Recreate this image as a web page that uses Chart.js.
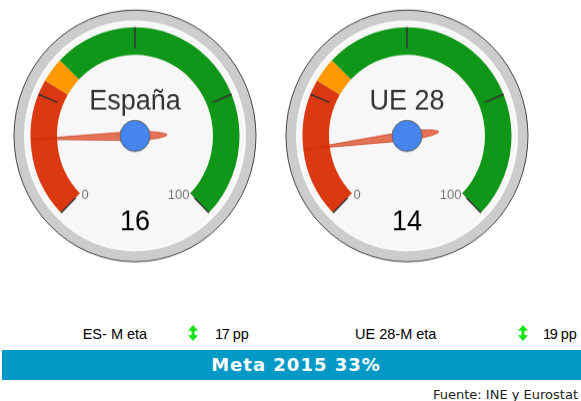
<!DOCTYPE html>
<html>
<head>
<meta charset="utf-8">
<script src="https://cdn.jsdelivr.net/npm/chart.js@4/dist/chart.umd.min.js"></script>
<style>
  body { margin: 0; width: 581px; height: 401px; background: #fff; position: relative; overflow: hidden; }
  .gauge { position: absolute; top: -36px; transform: scaleY(1.04); transform-origin: 0 0; }
  .txt { position: absolute; font-family: "Liberation Sans", Arial, sans-serif; font-size: 14.5px; line-height: 16px; color: #000; white-space: pre; }
  .num { letter-spacing: -1.2px; }
  .arrow { position: absolute; top: 325px; width: 10px; height: 16px; }
  #bar { position: absolute; left: 2px; top: 350px; width: 579px; height: 30px; background: #0399c6; }
  #meta { position: absolute; left: 0; top: 0; width: 588px; text-align: center; line-height: 30px; color: #fff;
          font-family: "DejaVu Sans", Verdana, sans-serif; font-weight: bold; font-size: 18px; letter-spacing: 1px; }
  #source { position: absolute; right: 3px; top: 387px; line-height: 15px; font-family: "DejaVu Sans", Verdana, sans-serif; font-size: 13px; color: #222; }
</style>
</head>
<body>
<canvas id="gaugeES" class="gauge" width="270" height="300" style="left:0px"></canvas>
<canvas id="gaugeUE" class="gauge" width="270" height="300" style="left:272px"></canvas>

<div id="bottom"></div>
<div id="bar"><div id="meta"></div></div>
<div id="source">Fuente: INE y Eurostat</div>

<script>
const gaugeTitles = ['España', 'UE 28'];
const gaugeValues = [16, 14];
const bandEdges = [0, 28, 33, 100];
const bandColors = ['#dc3912', '#ff9900', '#109618'];
const majorTicks = [0, 25, 50, 75, 100];
const tickLabels = ['0', '100'];

const metaYear = 2015;
const metaTarget = 33;
const gapLabels = ['ES- M eta', 'UE 28-M eta'];
const gapValues = [17, 19];

const RING = 121, FACE = 110, BAND_OUT = 104.5, BAND_IN = 78;

function circle(ctx, x, y, r) {
  ctx.beginPath();
  ctx.arc(x, y, r, 0, Math.PI * 2);
}

function gaugePlugin(title, value) {
  return {
    id: 'gaugeDial',
    beforeDatasetsDraw(chart) {
      const ctx = chart.ctx;
      const arc = chart.getDatasetMeta(0).data[0];
      ctx.save();
      circle(ctx, arc.x, arc.y, RING);
      ctx.fillStyle = '#cccccc';
      ctx.fill();
      ctx.lineWidth = 1;
      ctx.strokeStyle = '#444';
      ctx.stroke();
      circle(ctx, arc.x, arc.y, FACE);
      ctx.fillStyle = '#f7f7f7';
      ctx.fill();
      ctx.lineWidth = 2;
      ctx.strokeStyle = '#fbfbfb';
      ctx.stroke();
      ctx.restore();
    },
    afterDatasetsDraw(chart) {
      const ctx = chart.ctx;
      const arcs = chart.getDatasetMeta(0).data;
      const cx = arcs[0].x, cy = arcs[0].y;
      const a0 = arcs[0].startAngle, a1 = arcs[arcs.length - 1].endAngle;
      const lo = bandEdges[0], hi = bandEdges[bandEdges.length - 1];
      const angleOf = v => a0 + (v - lo) / (hi - lo) * (a1 - a0);

      ctx.save();
      // major ticks
      ctx.strokeStyle = '#333';
      ctx.lineWidth = 1.5;
      majorTicks.forEach(t => {
        const a = angleOf(t);
        ctx.beginPath();
        ctx.moveTo(cx + Math.cos(a) * BAND_OUT, cy + Math.sin(a) * BAND_OUT);
        ctx.lineTo(cx + Math.cos(a) * 84, cy + Math.sin(a) * 84);
        ctx.stroke();
      });

      // min / max labels
      ctx.fillStyle = '#777';
      ctx.font = '13px "Liberation Sans", Arial, sans-serif';
      ctx.textBaseline = 'alphabetic';
      ctx.textAlign = 'left';
      ctx.fillText(tickLabels[0], cx - 53.5, cy + 61);
      ctx.textAlign = 'right';
      ctx.fillText(tickLabels[1], cx + 54.5, cy + 61);

      // title and value
      ctx.textAlign = 'center';
      ctx.fillStyle = '#333';
      ctx.font = '27px "Liberation Sans", Arial, sans-serif';
      ctx.fillText(title, cx, cy - 25);
      ctx.fillStyle = '#000';
      ctx.fillText(String(value), cx, cy + 90.5);

      // needle
      const a = angleOf(value);
      ctx.translate(cx, cy);
      ctx.rotate(a);
      const L = 104, T = 32, w = 4.5;
      ctx.beginPath();
      ctx.moveTo(L, 0);
      ctx.lineTo(0, -w);
      ctx.bezierCurveTo(-T * 0.5, -w, -T, -2, -T, 0);
      ctx.bezierCurveTo(-T, 2, -T * 0.5, w, 0, w);
      ctx.closePath();
      ctx.fillStyle = 'rgba(220, 57, 18, 0.7)';
      ctx.fill();
      ctx.lineWidth = 0.8;
      ctx.strokeStyle = 'rgba(198, 51, 16, 0.8)';
      ctx.stroke();
      ctx.setTransform(1, 0, 0, 1, 0, 0);

      // knob
      circle(ctx, cx, cy, 15);
      ctx.fillStyle = '#4684ee';
      ctx.fill();
      ctx.lineWidth = 1;
      ctx.strokeStyle = '#666';
      ctx.stroke();
      ctx.restore();
    }
  };
}

function makeGauge(id, title, value) {
  const widths = bandColors.map((c, i) => bandEdges[i + 1] - bandEdges[i]);
  return new Chart(document.getElementById(id), {
    type: 'doughnut',
    data: {
      labels: ['rojo', 'ámbar', 'verde'],
      datasets: [{
        data: widths,
        backgroundColor: bandColors,
        borderWidth: 0
      }]
    },
    options: {
      responsive: false,
      animation: false,
      events: [],
      rotation: -135,
      circumference: 270,
      radius: BAND_OUT,
      cutout: (BAND_IN / BAND_OUT * 100) + '%',
      layout: { padding: 0 },
      plugins: { legend: { display: false }, tooltip: { enabled: false } }
    },
    plugins: [gaugePlugin(title, value)]
  });
}

makeGauge('gaugeES', gaugeTitles[0], gaugeValues[0]);
makeGauge('gaugeUE', gaugeTitles[1], gaugeValues[1]);

// gap rows under the gauges
const arrowSvg = '<svg viewBox="0 0 10 16" width="10" height="16"><path d="M5 0 L10 5.8 L6.8 5.8 Q6 8 6.8 10.2 L10 10.2 L5 16 L0 10.2 L3.2 10.2 Q4 8 3.2 5.8 L0 5.8 Z" fill="#16e416"/></svg>';
const rows = [
  { label: 82.7, arrow: 187.5, value: 215 },
  { label: 355, arrow: 517.5, value: 543 }
];
const bottom = document.getElementById('bottom');
rows.forEach((r, i) => {
  bottom.insertAdjacentHTML('beforeend',
    '<div class="txt" style="left:' + r.label + 'px;top:325.5px">' + gapLabels[i] + '</div>' +
    '<div class="arrow" style="left:' + r.arrow + 'px">' + arrowSvg + '</div>' +
    '<div class="txt" style="left:' + r.value + 'px;top:325.5px"><span class="num">' + gapValues[i] + '</span> pp</div>');
});
document.getElementById('meta').textContent = 'Meta ' + metaYear + ' ' + metaTarget + '%';
</script>
</body>
</html>
